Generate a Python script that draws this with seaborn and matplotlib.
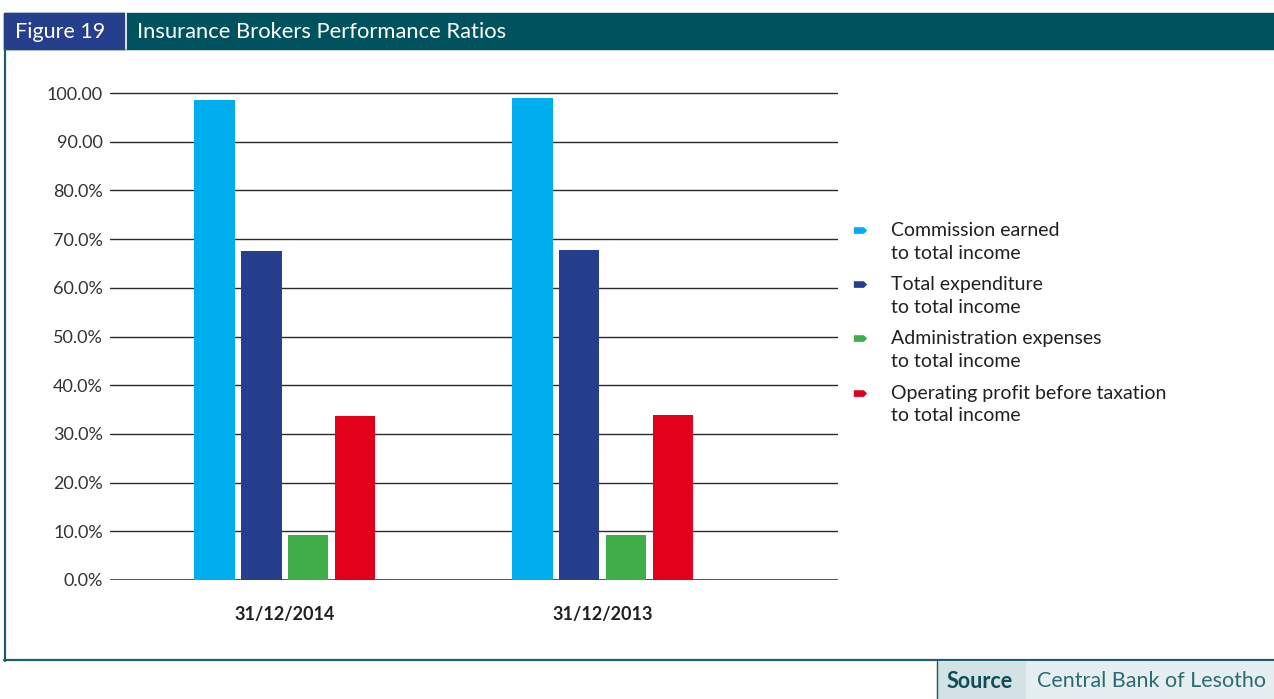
import numpy as np
import pandas as pd
import seaborn as sns
import matplotlib.pyplot as plt
from matplotlib.patches import Rectangle
from matplotlib.lines import Line2D
from matplotlib.path import Path

# data
dates = ["31/12/2014", "31/12/2013"]
ratios = ["Commission earned\nto total income",
          "Total expenditure\nto total income",
          "Administration expenses\nto total income",
          "Operating profit before taxation\nto total income"]
commission = [98.6, 98.9]
expenditure = [67.6, 67.8]
admin = [9.2, 9.3]
profit = [33.7, 33.9]
tick_vals = [0, 10, 20, 30, 40, 50, 60, 70, 80, 90, 100]
tick_labels = ["0.0%", "10.0%", "20.0%", "30.0%", "40.0%", "50.0%",
               "60.0%", "70.0%", "80.0%", "90.00", "100.00"]
colors = ["#00aeef", "#253f8e", "#3fae49", "#e2001a"]

df = pd.DataFrame({
    "date": dates * 4,
    "ratio": np.repeat(ratios, 2),
    "value": commission + expenditure + admin + profit,
})

sns.set_theme(style="white")
plt.rcParams["font.family"] = ["Lato", "DejaVu Sans"]

W, H = 1274, 699
fig = plt.figure(figsize=(W / 100, H / 100), dpi=100)

def fx(px):
    return px / W

def fy(py):
    return 1 - py / H

# axes placed in pixel terms: y=0 at 580, ~4.87 px per unit
scale = 4.87
ytop = 100.5
ax = fig.add_axes([fx(110), fy(580), (838 - 110) / W, ytop * scale / H])
sns.barplot(data=df, x="date", y="value", hue="ratio", order=dates,
            hue_order=ratios, palette=colors, saturation=1, width=0.59,
            gap=0.14, errorbar=None, linewidth=0, legend=False, ax=ax)
ax.set_ylim(0, ytop)
ax.set_xlim(-0.55, 1.74)
for v in tick_vals:
    ax.axhline(v, color="#555555" if v == 0 else "#2b2b2b",
               lw=1.4 if v == 0 else 1.0, zorder=0.5)
ax.set_yticks(tick_vals, tick_labels)
ax.tick_params(axis="y", length=0, pad=5, labelsize=13, labelcolor="#333333")
ax.tick_params(axis="x", length=0, pad=19, labelsize=13, labelcolor="#231f20")
for lab in ax.get_xticklabels():
    lab.set_fontweight("bold")
ax.set_xlabel("")
ax.set_ylabel("")
for s in ax.spines.values():
    s.set_visible(False)

# legend with small tag markers aligned to the first line
tag = Path([(-1, 1.3), (0.5, 1.3), (1, 1.8), (0.5, 2.3), (-1, 2.3), (-1, 1.3)],
           [Path.MOVETO, Path.LINETO, Path.LINETO, Path.LINETO, Path.LINETO, Path.CLOSEPOLY])
handles = [Line2D([], [], ls="none", marker=tag, markersize=22,
                  markerfacecolor=c, markeredgewidth=0) for c in colors]
leg = ax.legend(handles, ratios, loc="upper left", bbox_to_anchor=(fx(848), fy(222)),
                bbox_transform=fig.transFigure, frameon=False, fontsize=14,
                labelspacing=0.75, handlelength=1.2, handletextpad=1.0,
                borderpad=0, borderaxespad=0, labelcolor="#231f20")
for t in leg.get_texts():
    t.set_linespacing(1.4)

# header band
teal = "#00535e"
fig.patches.append(Rectangle((fx(4), fy(49)), 1 - fx(4), 36 / H,
                             transform=fig.transFigure, color=teal, zorder=0))
fig.patches.append(Rectangle((fx(4), fy(49)), 121 / W, 36 / H,
                             transform=fig.transFigure, color="#263f8c", zorder=1))
fig.add_artist(Line2D([fx(125.5), fx(125.5)], [fy(49), fy(13)], color="white", lw=1.2))
fig.text(fx(15), fy(32), "Figure 19", color="white", fontsize=15.5, va="center")
fig.text(fx(137), fy(32), "Insurance Brokers Performance Ratios", color="white",
         fontsize=15.8, va="center")

# frame
fig.add_artist(Line2D([fx(5), fx(5)], [fy(49), fy(661)], color="#1d5f67", lw=1.6))
fig.add_artist(Line2D([fx(4), 1], [fy(660), fy(660)], color="#1d5f67", lw=1.6))

# source box
fig.patches.append(Rectangle((fx(937), 0), 1 - fx(937), (699 - 662) / H,
                             transform=fig.transFigure, color="#e5eff1", zorder=0))
fig.patches.append(Rectangle((fx(937), 0), 88 / W, (699 - 662) / H,
                             transform=fig.transFigure, color="#d2e2e5", zorder=1))
fig.add_artist(Line2D([fx(937), fx(937)], [0, fy(661)], color="#1d5f67", lw=1.0))
fig.text(fx(947), fy(681), "Source", color="#0f4c55", fontsize=15.5,
         fontweight="bold", va="center")
fig.text(fx(1037), fy(681), "Central Bank of Lesotho", color="#2d6b73",
         fontsize=15.5, va="center")

fig.savefig("out.png", dpi=100)
